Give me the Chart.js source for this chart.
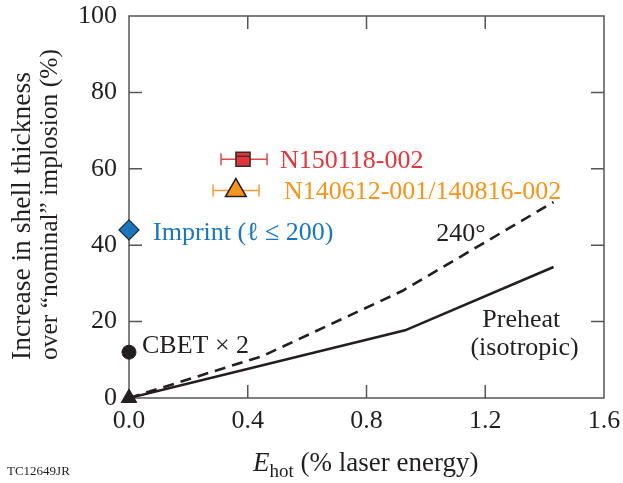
<!DOCTYPE html>
<html>
<head>
<meta charset="utf-8">
<script src="https://cdn.jsdelivr.net/npm/chart.js@4"></script>
<style>
  html, body { margin: 0; padding: 0; background: #fff; }
  #wrap { width: 623px; height: 483px; }
</style>
</head>
<body>
<div id="wrap"><canvas id="chart"></canvas></div>
<script>
// ---------- data ----------
const xTicks = [0.0, 0.4, 0.8, 1.2, 1.6];
const yTicks = [0, 20, 40, 60, 80, 100];

const preheatX = [0, 0.93, 1.43];
const preheatY = [0, 17.7, 34.3];

const dashedX = [0, 0.45, 0.92, 1.43];
const dashedY = [0, 11, 28, 51.3];

const cbet = [0, 12];
const imprint = [0, 44];
const origin = [0, 0];

const shotRed = [0.384, 62.5];
const shotRedErr = [0.31, 0.465];
const shotOrange = [0.36, 54.3];
const shotOrangeErr = [0.283, 0.438];

const SERIF = "'Liberation Serif', 'DejaVu Serif', serif";
const AXIS = "#555";
const FS = 26;

function pts(xs, ys) {
  return xs.map(function (x, i) { return { x: x, y: ys[i] }; });
}

// ---------- frame, inward ticks, error bars, labels ----------
const decorPlugin = {
  id: "decor",
  beforeDatasetsDraw: function (chart) {
    const c = chart.ctx;
    const a = chart.chartArea;
    const xs = chart.scales.x, ys = chart.scales.y;
    c.save();
    // frame with inward ticks (under the markers)
    c.strokeStyle = AXIS;
    c.lineWidth = 1.5;
    c.strokeRect(a.left, a.top, a.right - a.left, a.bottom - a.top);
    const tl = 13;
    c.beginPath();
    xTicks.slice(1, -1).forEach(function (v) {
      const x = xs.getPixelForValue(v);
      c.moveTo(x, a.bottom); c.lineTo(x, a.bottom - tl);
      c.moveTo(x, a.top); c.lineTo(x, a.top + tl);
    });
    yTicks.slice(1, -1).forEach(function (v) {
      const y = ys.getPixelForValue(v);
      c.moveTo(a.left, y); c.lineTo(a.left + tl, y);
      c.moveTo(a.right, y); c.lineTo(a.right - tl, y);
    });
    c.stroke();

    // error bars
    [[shotRed, shotRedErr, "#e0474c"], [shotOrange, shotOrangeErr, "#f39a3a"]].forEach(function (s) {
      const y = ys.getPixelForValue(s[0][1]);
      const x1 = xs.getPixelForValue(s[1][0]);
      const x2 = xs.getPixelForValue(s[1][1]);
      c.strokeStyle = s[2];
      c.beginPath();
      c.moveTo(x1, y); c.lineTo(x2, y);
      c.moveTo(x1, y - 6); c.lineTo(x1, y + 6);
      c.moveTo(x2, y - 6); c.lineTo(x2, y + 6);
      c.stroke();
    });
    c.restore();
  },
  afterDraw: function (chart) {
    const c = chart.ctx;
    const xs = chart.scales.x, ys = chart.scales.y;
    c.save();

    // red square inner band
    const rx = xs.getPixelForValue(shotRed[0]);
    const ry = ys.getPixelForValue(shotRed[1]);
    c.strokeStyle = "#3a2a2a";
    c.lineWidth = 1.2;
    c.beginPath();
    c.moveTo(rx - 7, ry - 3); c.lineTo(rx + 7, ry - 3);
    c.stroke();

    // annotations
    c.textBaseline = "alphabetic";
    c.textAlign = "left";
    c.font = FS + "px " + SERIF;
    function label(txt, color, v, dx, dy) {
      c.fillStyle = color;
      c.fillText(txt, xs.getPixelForValue(v[0]) + dx, ys.getPixelForValue(v[1]) + dy);
    }
    label("N150118-002", "#e0363c", shotRed, 37, 9);
    label("N140612-001/140816-002", "#f7941d", shotOrange, 48, 8);
    label("Imprint (\u2113 \u2264 200)", "#1b75bc", imprint, 24, 10);
    label("CBET \u00d7 2", "#231f20", cbet, 13, 1);
    c.fillStyle = "#231f20";
    c.fillText("240\u00b0", xs.getPixelForValue(1.035), ys.getPixelForValue(41));
    c.fillText("Preheat", xs.getPixelForValue(1.19), ys.getPixelForValue(18.5));
    c.fillText("(isotropic)", xs.getPixelForValue(1.15), ys.getPixelForValue(11.2));

    // x title
    const parts = [["E", "italic 27px ", 0], ["hot", "19px ", 6], [" (% laser energy)", "27px ", 0]];
    let x = 253;
    parts.forEach(function (p) {
      c.font = p[1] + SERIF;
      c.fillText(p[0], x, 471 + p[2]);
      x += c.measureText(p[0]).width;
    });

    // y title
    c.translate(0, 360);
    c.rotate(-Math.PI / 2);
    c.textBaseline = "middle";
    c.font = "27.5px " + SERIF;
    c.fillText("Increase in shell thickness", 0, 23);
    c.font = "25.5px " + SERIF;
    c.fillText("over \u201cnominal\u201d implosion (%)", 0, 50);
    c.restore();

    c.save();
    c.font = "13px " + SERIF;
    c.fillStyle = "#231f20";
    c.fillText("TC12649JR", 7, 475);
    c.restore();
  }
};

const ctx = document.getElementById("chart");

new Chart(ctx, {
  type: "scatter",
  data: {
    datasets: [
      {
        label: "Preheat",
        data: pts(preheatX, preheatY),
        showLine: true,
        borderColor: "#231f20",
        borderWidth: 2.6,
        pointRadius: 0
      },
      {
        label: "240",
        data: pts(dashedX, dashedY),
        showLine: true,
        borderColor: "#231f20",
        borderWidth: 2.6,
        borderDash: [11, 7],
        pointRadius: 0
      },
      {
        label: "origin",
        data: [{ x: origin[0], y: origin[1] }],
        pointStyle: "triangle",
        pointRadius: 9,
        backgroundColor: "#231f20",
        borderColor: "#231f20",
        clip: false
      },
      {
        label: "CBET",
        data: [{ x: cbet[0], y: cbet[1] }],
        pointStyle: "circle",
        pointRadius: 7,
        backgroundColor: "#231f20",
        borderColor: "#231f20",
        clip: false
      },
      {
        label: "Imprint",
        data: [{ x: imprint[0], y: imprint[1] }],
        pointStyle: "rectRot",
        pointRadius: 10,
        backgroundColor: "#1b75bc",
        borderColor: "#1a2a3a",
        borderWidth: 1.2,
        clip: false
      },
      {
        label: "N150118",
        data: [{ x: shotRed[0], y: shotRed[1] }],
        pointStyle: "rect",
        pointRadius: 10,
        backgroundColor: "#e0363c",
        borderColor: "#3a2a2a",
        borderWidth: 1.5,
        clip: false
      },
      {
        label: "N140612",
        data: [{ x: shotOrange[0], y: shotOrange[1] }],
        pointStyle: "triangle",
        pointRadius: 12,
        backgroundColor: "#f7941d",
        borderColor: "#231f20",
        borderWidth: 1.5,
        clip: false
      }
    ]
  },
  options: {
    responsive: true,
    maintainAspectRatio: false,
    animation: false,
    layout: {
      padding: { top: 16, right: 19, left: 0, bottom: 0 }
    },
    plugins: {
      legend: { display: false },
      tooltip: { enabled: false }
    },
    scales: {
      x: {
        type: "linear",
        min: 0,
        max: 1.6,
        afterFit: function (s) {
          s.height = 85;
          s.paddingLeft = 0;
          s.paddingRight = 0;
        },
        afterBuildTicks: function (s) {
          s.ticks = xTicks.map(function (v) { return { value: v }; });
        },
        grid: { display: false, drawTicks: false },
        border: { display: false },
        ticks: {
          padding: 8,
          color: "#231f20",
          font: { family: SERIF, size: FS },
          callback: function (v) { return v.toFixed(1); }
        }
      },
      y: {
        type: "linear",
        min: 0,
        max: 100,
        afterFit: function (s) {
          s.width = 129;
          s.paddingTop = 0;
          s.paddingBottom = 0;
        },
        afterBuildTicks: function (s) {
          s.ticks = yTicks.map(function (v) { return { value: v }; });
        },
        grid: { display: false, drawTicks: false },
        border: { display: false },
        ticks: {
          padding: 12,
          color: "#231f20",
          font: { family: SERIF, size: FS }
        }
      }
    }
  },
  plugins: [decorPlugin]
});
</script>
</body>
</html>
